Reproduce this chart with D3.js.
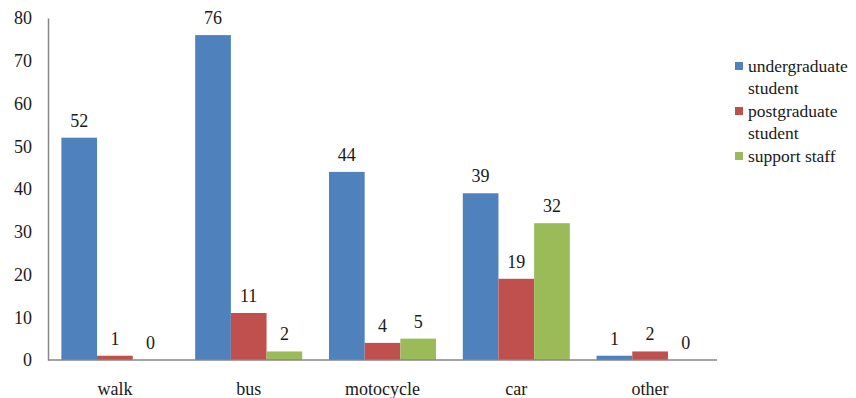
<!DOCTYPE html>
<html><head><meta charset="utf-8">
<script src="https://cdn.jsdelivr.net/npm/d3@7"></script>
<style>body{margin:0;background:#fff;} svg{display:block;}</style>
</head><body>
<svg id="chart" width="856" height="398"></svg>
<script>
const categories = ["walk", "bus", "motocycle", "car", "other"];
const seriesNames = ["undergraduate student", "postgraduate student", "support staff"];
const undergraduate = [52, 76, 44, 39, 1];
const postgraduate = [1, 11, 4, 19, 2];
const supportStaff = [0, 2, 5, 32, 0];
const yTicks = [0, 10, 20, 30, 40, 50, 60, 70, 80];
const colors = ["#4F81BD", "#C0504D", "#9BBB59"];
const legendLines = [["undergraduate", "student"], ["postgraduate", "student"], ["support staff"]];

const series = [undergraduate, postgraduate, supportStaff];
const svg = d3.select("#chart");
const FONT = '"Liberation Serif"';
const plotLeft = 48, plotRight = 717, plotTop = 18, plotBottom = 360;

const x = d3.scaleBand().domain(categories).range([plotLeft, plotRight]).paddingInner(0.2).paddingOuter(0.1);
const band = d3.scaleBand().domain(d3.range(series.length)).range([0, x.bandwidth()]);
const y = d3.scaleLinear().domain([0, 80]).range([plotBottom, plotTop]);

// bars
series.forEach((vals, si) => {
  svg.append("g").selectAll("rect").data(vals).join("rect")
    .attr("x", (d, i) => x(categories[i]) + band(si))
    .attr("width", band.bandwidth())
    .attr("y", d => y(d))
    .attr("height", d => y(0) - y(d))
    .attr("fill", colors[si]);
  svg.append("g").selectAll("text").data(vals).join("text")
    .attr("x", (d, i) => x(categories[i]) + band(si) + band.bandwidth() / 2)
    .attr("y", d => y(d) - 11)
    .attr("text-anchor", "middle")
    .style("font-family", FONT).style("font-size", "18px").attr("fill", "#1a1a1a")
    .text(d => d);
});

// y axis
const yAxis = d3.axisLeft(y).tickValues(yTicks).tickSize(0).tickPadding(16);
const gy = svg.append("g").attr("transform", `translate(${plotLeft},0)`).call(yAxis);
gy.select(".domain").attr("stroke", "#868686").attr("stroke-width", 1.5);
gy.selectAll("text").style("font-family", FONT).style("font-size", "18px").attr("fill", "#1a1a1a");

// x axis
const xAxis = d3.axisBottom(x).tickSize(0).tickPadding(22);
const gx = svg.append("g").attr("transform", `translate(0,${plotBottom})`).call(xAxis);
gx.select(".domain").attr("stroke", "#868686").attr("stroke-width", 1.5).attr("d", `M${plotLeft},0H${plotRight}`);
gx.selectAll("text").style("font-family", FONT).style("font-size", "18px").attr("fill", "#1a1a1a");

// legend
const legend = svg.append("g");
let ly = 66;
legendLines.forEach((lines, i) => {
  legend.append("rect").attr("x", 735).attr("y", ly - 4).attr("width", 8).attr("height", 8).attr("fill", colors[i]);
  lines.forEach((ln, j) => {
    legend.append("text").attr("x", 748).attr("y", ly + j * 22).attr("dy", "0.35em")
      .style("font-family", FONT).style("font-size", "17.5px").attr("fill", "#1a1a1a").text(ln);
  });
  ly += lines.length * 22 + 1;
});
</script>
</body></html>
